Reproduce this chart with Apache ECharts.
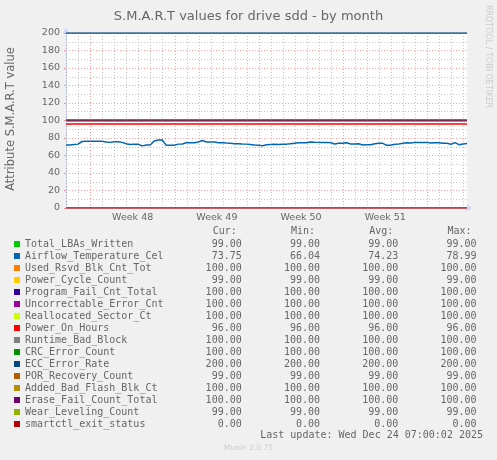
<!DOCTYPE html>
<html>
<head>
<meta charset="utf-8">
<script src="https://cdn.jsdelivr.net/npm/echarts@6/dist/echarts.min.js"></script>
<style>
html,body{margin:0;padding:0;background:#F0F0F0;}
#chart{width:497px;height:460px;}
</style>
</head>
<body>
<div id="chart"></div>
<script>
// ---- data ----
const titleText = 'S.M.A.R.T values for drive sdd - by month';
const yAxisName = 'Attribute S.M.A.R.T value';
const seriesNames = ['Total_LBAs_Written','Airflow_Temperature_Cel','Used_Rsvd_Blk_Cnt_Tot','Power_Cycle_Count','Program_Fail_Cnt_Total','Uncorrectable_Error_Cnt','Reallocated_Sector_Ct','Power_On_Hours','Runtime_Bad_Block','CRC_Error_Count','ECC_Error_Rate','POR_Recovery_Count','Added_Bad_Flash_Blk_Ct','Erase_Fail_Count_Total','Wear_Leveling_Count','smartctl_exit_status'];
const seriesColors = ['#00CC00','#0066B3','#FF8000','#FFCC00','#330099','#990099','#CCFF00','#FF0000','#808080','#008F00','#00487D','#B35A00','#B38F00','#6B006B','#8FB300','#B30000'];
const curValues = [99, 73.75, 100, 99, 100, 100, 100, 96, 100, 100, 200, 99, 100, 100, 99, 0];
const minValues = [99, 66.04, 100, 99, 100, 100, 100, 96, 100, 100, 200, 99, 100, 100, 99, 0];
const avgValues = [99, 74.23, 100, 99, 100, 100, 100, 96, 100, 100, 200, 99, 100, 100, 99, 0];
const maxValues = [99, 78.99, 100, 99, 100, 100, 100, 96, 100, 100, 200, 99, 100, 100, 99, 0];
// Airflow temperature samples, one every 8 hours over the 800-hour window
const tempSamples = [
 72.0,72.0,72.5,73.0,76.0,76.2,76.2,76.2,76.2,76.2,
 75.5,75.0,75.8,75.8,75.0,73.5,72.5,73.0,72.8,71.0,
 72.0,72.0,76.5,77.7,77.7,71.6,71.6,71.8,73.0,73.2,
 74.5,74.7,74.7,75.5,77.2,75.5,75.3,75.5,74.5,74.5,
 74.2,74.0,73.5,73.5,73.2,73.0,72.5,72.0,71.8,71.2,
 72.2,72.5,72.8,72.5,73.0,73.0,73.5,74.0,74.5,74.5,
 74.7,75.5,75.2,75.0,75.0,75.0,74.7,73.2,73.9,73.9,
 74.5,73.2,73.1,73.5,72.0,72.4,72.4,73.5,73.9,73.9,
 71.6,71.8,72.8,73.2,73.9,74.7,74.2,75.0,75.0,75.0,
 75.0,74.2,74.7,74.7,74.0,73.9,72.8,74.7,72.4,73.1,
 73.75];
const sampleStepHours = 8;
const windowHours = 800;
const weekStartHours = [49, 217, 385, 553, 721];
const weekLabels = ['Week 48','Week 49','Week 50','Week 51'];
const weekCenterHours = [133, 301, 469, 637];
const dayStepHours = 24;
const firstDayHour = 1;
const lastUpdate = 'Last update: Wed Dec 24 07:00:02 2025';
const footer = 'Munin 2.0.75';
const watermark = 'RRDTOOL / TOBI OETIKER';

// ---- build ----
const fmt = v => v.toFixed(2);
function legendLine(i){
  return seriesNames[i].padEnd(24) + fmt(curValues[i]).padStart(12) + fmt(minValues[i]).padStart(13) + fmt(avgValues[i]).padStart(13) + fmt(maxValues[i]).padStart(13);
}
const headerLine = ' '.repeat(31) + 'Cur:' + 'Min:'.padStart(13) + 'Avg:'.padStart(13) + 'Max:'.padStart(13);

const majorGrid = 'rgba(255,0,0,0.38)';
const minorGrid = 'rgba(110,110,110,0.4)';

const vLines = [];
for (let h = firstDayHour; h < windowHours; h += dayStepHours) {
  const major = weekStartHours.indexOf(h) >= 0;
  vLines.push({xAxis: h, lineStyle: {color: major ? majorGrid : minorGrid, type: [1,2], width: 1}});
}

const series = seriesNames.map((name, i) => {
  let data;
  const isTemp = name === 'Airflow_Temperature_Cel';
  if (isTemp) {
    data = tempSamples.map((v, k) => [k * sampleStepHours, v]);
  } else {
    data = [[0, curValues[i]], [windowHours, curValues[i]]];
  }
  const s = {
    name, type: 'line', data, showSymbol: false, symbol: 'none',
    color: seriesColors[i],
    lineStyle: {width: isTemp ? 1.5 : 1.3, color: seriesColors[i]},
    animation: false, silent: true
  };
  if (i === 0) {
    s.markLine = {silent: true, symbol: 'none', label: {show: false}, animation: false, data: vLines};
  }
  return s;
});

const chart = echarts.init(document.getElementById('chart'));
chart.setOption({
  backgroundColor: '#F0F0F0',
  animation: false,
  title: {
    text: titleText, left: 'center', top: 5,
    textStyle: {color: '#666', fontSize: 13, fontWeight: 'normal', fontFamily: 'DejaVu Sans'}
  },
  grid: {left: 66, top: 33, width: 401, height: 175, backgroundColor: '#FFFFFF', show: true, borderWidth: 0},
  xAxis: {
    type: 'value', min: 0, max: windowHours,
    axisLine: {show: true, onZero: false, lineStyle: {color: '#CFD6F8'}, symbol: ['none','arrow'], symbolSize: [6,6], symbolOffset: [0,5]},
    axisTick: {show: false},
    splitLine: {show: false},
    axisLabel: {
      customValues: weekCenterHours,
      formatter: v => { const k = weekCenterHours.indexOf(v); return k >= 0 ? weekLabels[k] : ''; },
      color: '#666', fontSize: 9.5, fontFamily: 'DejaVu Sans', margin: 5
    }
  },
  yAxis: {
    type: 'value', min: 0, max: 200, interval: 20,
    axisLine: {show: true, lineStyle: {color: '#CFD6F8'}, symbol: ['none','arrow'], symbolSize: [6,6], symbolOffset: [0,5]},
    axisTick: {show: true, length: 2, lineStyle: {color: majorGrid}},
    axisLabel: {color: '#666', fontSize: 9.5, fontFamily: 'DejaVu Sans', margin: 6},
    splitLine: {show: true, lineStyle: {color: majorGrid, type: [1,2]}},
    minorTick: {show: false, splitNumber: 2},
    minorSplitLine: {show: true, lineStyle: {color: minorGrid, type: [1,2]}}
  },
  legend: {
    orient: 'vertical', left: 14, top: 238, padding: 0, itemGap: 0,
    icon: 'rect', itemWidth: 6, itemHeight: 6, selectedMode: false,
    data: seriesNames,
    formatter: name => legendLine(seriesNames.indexOf(name)),
    textStyle: {fontFamily: 'DejaVu Sans Mono', fontSize: 10, color: '#666', lineHeight: 12, height: 12}
  },
  graphic: [
    {type: 'text', left: 26, top: 226, silent: true,
     style: {text: headerLine, font: '10px "DejaVu Sans Mono"', fill: '#666'}},
    {type: 'text', right: 14, top: 430, silent: true,
     style: {text: lastUpdate, font: '10px "DejaVu Sans Mono"', fill: '#666'}},
    {type: 'text', left: 'center', top: 444, silent: true,
     style: {text: footer, font: '7.5px "DejaVu Sans"', fill: '#CCCCCC'}},
    {type: 'text', x: 484, y: 5, rotation: -Math.PI / 2, silent: true,
     style: {text: watermark, font: '8px "DejaVu Sans"', fill: '#CCCCCC', textAlign: 'left', textVerticalAlign: 'bottom'}},
    {type: 'text', x: 5, y: 119, rotation: Math.PI / 2, silent: true,
     style: {text: yAxisName, font: '11.5px "DejaVu Sans"', fill: '#666', textAlign: 'center', textVerticalAlign: 'top'}}
  ],
  series
});
</script>
</body>
</html>
